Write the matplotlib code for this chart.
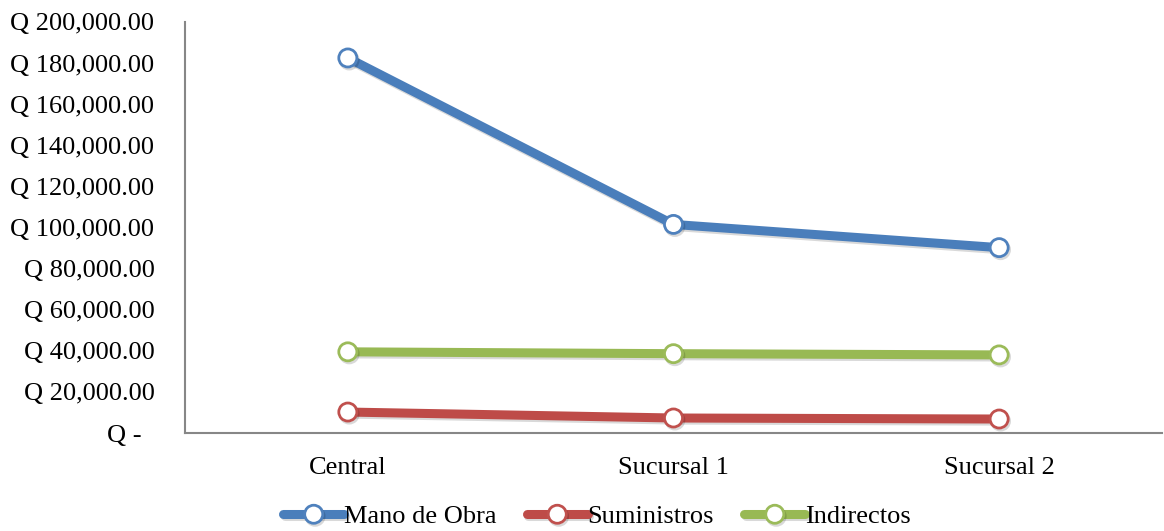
import matplotlib
matplotlib.use("Agg")
import matplotlib.pyplot as plt
import matplotlib.patheffects as pe
from matplotlib.ticker import FuncFormatter

plt.rcParams['font.family'] = ['Liberation Serif', 'DejaVu Serif']

categories = ["Central", "Sucursal 1", "Sucursal 2"]
mano_obra = [182500, 101500, 90200]
suministros = [10200, 7300, 6800]
indirectos = [39500, 38600, 38000]

series = [
    ("Mano de Obra", mano_obra, "#4A7EBB", "#4F81BD"),
    ("Suministros", suministros, "#BE4B48", "#C0504D"),
    ("Indirectos", indirectos, "#98B954", "#9BBB59"),
]

fig = plt.figure(figsize=(11.64, 5.31), dpi=100)
ax = fig.add_axes([185 / 1164, 1 - 433 / 531, 977 / 1164, 411 / 531])

x = range(len(categories))
for name, vals, col, mcol in series:
    ax.plot(x, vals, color=col, lw=6.5, marker='o', ms=13, mfc='white',
            mec=mcol, mew=2, label=name, solid_capstyle='round',
            path_effects=[pe.SimpleLineShadow(offset=(1, -1.5), alpha=0.15), pe.Normal()])

ax.set_xlim(-0.5, 2.5)
ax.set_ylim(0, 200000)
ax.set_yticks(range(0, 200001, 20000))
ax.yaxis.set_major_formatter(FuncFormatter(lambda v, p: "Q -  " if v == 0 else f"Q {v:,.2f}"))
ax.set_xticks(list(x))
ax.set_xticklabels(categories)
ax.tick_params(axis='both', length=0, labelsize=19, colors='black')
ax.tick_params(axis='x', pad=17)
ax.tick_params(axis='y', pad=22)

for s in ['top', 'right']:
    ax.spines[s].set_visible(False)
for s in ['left', 'bottom']:
    ax.spines[s].set_color('#878787')
    ax.spines[s].set_linewidth(1.5)

leg = fig.legend(loc='lower center', bbox_to_anchor=(0.513, -0.04), ncol=3, frameon=False,
                 fontsize=19, handlelength=2.3, handletextpad=0.0, columnspacing=1.15)

fig.savefig("out.png", dpi=100)
